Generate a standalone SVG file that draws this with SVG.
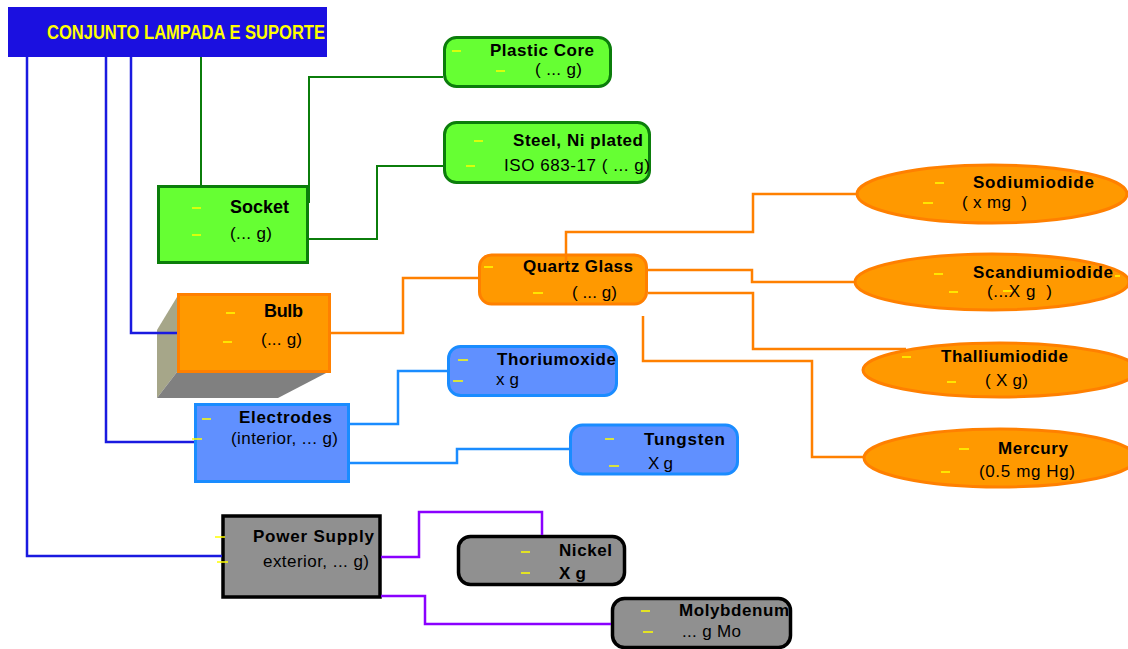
<svg xmlns="http://www.w3.org/2000/svg" width="1128" height="649" viewBox="0 0 1128 649">
  <style>
    text { font-family: "Liberation Sans", Arial, sans-serif; fill: #000; white-space: pre; }
    .b { font-weight: bold; }
    .t { font-size: 17px; }
    .green { fill: #66ff33; stroke: #0b7d0b; stroke-width: 3; }
    .orange { fill: #ff9900; stroke: #ff8000; stroke-width: 3; }
    .blue { fill: #6090ff; stroke: #1a8cff; stroke-width: 3; }
    .gray { fill: #909090; stroke: #000; stroke-width: 3.5; }
    .dash { stroke: #ffff00; stroke-width: 1.5; }
    .c { fill: none; stroke-width: 2.5; }
    .c-root { stroke: #1a1ae0; }
    .c-green { stroke: #0b7d0b; stroke-width: 2; }
    .c-orange { stroke: #ff8000; }
    .c-elec { stroke: #1a8cff; }
    .c-purple { stroke: #8a00ff; }
  </style>

  <!-- root -->
  <g id="conjunto">
    <rect x="8" y="7" width="319" height="50" fill="#1b10e0"/>
    <text x="47" y="39" class="b" font-size="20" style="fill:#ffff00" textLength="278" lengthAdjust="spacingAndGlyphs">CONJUNTO LAMPADA E SUPORTE</text>
  </g>

  <!-- socket branch -->
  <g id="socket">
    <rect class="green" x="158.5" y="186.5" width="149" height="76"/>
    <text x="230" y="213" class="b" font-size="18" textLength="59">Socket</text>
    <text x="230" y="239" font-size="17" textLength="42">(... g)</text>
    <line class="dash" x1="192" y1="208" x2="201" y2="208"/>
    <line class="dash" x1="192" y1="235" x2="201" y2="235"/>
  </g>
  <g id="plastic-core">
    <rect class="green" x="444.5" y="37.5" width="166" height="49" rx="12"/>
    <text x="490" y="56" class="b t" textLength="104">Plastic Core</text>
    <text x="535" y="75" class="t" textLength="47">( ... g)</text>
    <line class="dash" x1="452" y1="51" x2="461" y2="51"/>
    <line class="dash" x1="496" y1="71" x2="505" y2="71"/>
  </g>
  <g id="steel">
    <rect class="green" x="444.5" y="122.5" width="205" height="60" rx="12"/>
    <text x="513" y="146" class="b t" textLength="130">Steel, Ni plated</text>
    <text x="504" y="171" class="t" textLength="146">ISO 683-17 ( ... g)</text>
    <line class="dash" x1="474" y1="141" x2="483" y2="141"/>
    <line class="dash" x1="466" y1="166" x2="475" y2="166"/>
  </g>

  <!-- bulb branch -->
  <g id="bulb">
    <polygon points="177,297 177,372 157,398 157,330" fill="#a6a689"/>
    <polygon points="177,372 328,372 278,398 157,398" fill="#808080"/>
    <rect class="orange" x="178.5" y="294.5" width="151" height="77"/>
    <text x="264" y="317" class="b" font-size="18" textLength="39">Bulb</text>
    <text x="261" y="345" font-size="17" textLength="41">(... g)</text>
    <line class="dash" x1="226" y1="313" x2="235" y2="313"/>
    <line class="dash" x1="223" y1="342" x2="232" y2="342"/>
  </g>
  <g id="quartz-glass">
    <rect class="orange" x="479.5" y="255" width="167" height="49" rx="12"/>
    <text x="523" y="272" class="b t" textLength="110">Quartz Glass</text>
    <text x="572" y="298" class="t" textLength="45">( ... g)</text>
    <line class="dash" x1="484" y1="267" x2="493" y2="267"/>
    <line class="dash" x1="533" y1="293" x2="543" y2="293"/>
  </g>
  <g id="sodiumiodide">
    <ellipse class="orange" cx="992" cy="194" rx="135" ry="29"/>
    <text x="973" y="188" class="b t" textLength="121">Sodiumiodide</text>
    <text x="962" y="208" class="t" textLength="65">( x mg  )</text>
    <line class="dash" x1="935" y1="183" x2="944" y2="183"/>
    <line class="dash" x1="923" y1="203" x2="933" y2="203"/>
  </g>
  <g id="scandiumiodide">
    <ellipse class="orange" cx="992" cy="282" rx="137" ry="28"/>
    <text x="973" y="278" class="b t" textLength="140">Scandiumiodide</text>
    <text x="987" y="297" class="t" textLength="65">(...X g  )</text>
    <line class="dash" x1="934" y1="274" x2="943" y2="274"/>
    <line class="dash" x1="949" y1="292" x2="958" y2="292"/>
    <line class="dash" x1="1003" y1="291" x2="1012" y2="291"/>
    <line class="dash" x1="1115" y1="276" x2="1120" y2="276"/>
  </g>
  <g id="thalliumiodide">
    <ellipse class="orange" cx="1000" cy="370" rx="137" ry="27"/>
    <text x="941" y="362" class="b t" textLength="127">Thalliumiodide</text>
    <text x="985" y="386" class="t" textLength="43">( X g)</text>
    <line class="dash" x1="902" y1="357" x2="911" y2="357"/>
    <line class="dash" x1="947" y1="382" x2="956" y2="382"/>
  </g>
  <g id="mercury">
    <ellipse class="orange" cx="1000" cy="458" rx="136" ry="29"/>
    <text x="998" y="454" class="b t" textLength="70">Mercury</text>
    <text x="979" y="477" class="t" textLength="96">(0.5 mg Hg)</text>
    <line class="dash" x1="959" y1="449" x2="969" y2="449"/>
    <line class="dash" x1="941" y1="472" x2="950" y2="472"/>
  </g>

  <!-- electrodes branch -->
  <g id="electrodes">
    <rect class="blue" x="195.5" y="404.5" width="153" height="77"/>
    <text x="239" y="423" class="b t" textLength="93">Electrodes</text>
    <text x="231" y="444" class="t" textLength="107">(interior, ... g)</text>
    <line class="dash" x1="202" y1="419" x2="211" y2="419"/>
    <line class="dash" x1="192" y1="439" x2="202" y2="439"/>
  </g>
  <g id="thoriumoxide">
    <rect class="blue" x="448.5" y="346.5" width="168" height="49" rx="12"/>
    <text x="497" y="365" class="b t" textLength="119">Thoriumoxide</text>
    <text x="496" y="385" class="t" textLength="23">x g</text>
    <line class="dash" x1="458" y1="360" x2="468" y2="360"/>
    <line class="dash" x1="453" y1="381" x2="463" y2="381"/>
  </g>
  <g id="tungsten">
    <rect class="blue" x="570.5" y="425" width="167" height="49" rx="12"/>
    <text x="644" y="445" class="b t" textLength="81">Tungsten</text>
    <text x="648" y="469" class="t" textLength="25">X g</text>
    <line class="dash" x1="605" y1="439" x2="614" y2="439"/>
    <line class="dash" x1="609" y1="466" x2="619" y2="466"/>
  </g>

  <!-- power supply branch -->
  <g id="power-supply">
    <rect class="gray" x="223" y="516" width="157" height="81"/>
    <text x="253" y="542" class="b t" textLength="121">Power Supply</text>
    <text x="263" y="567" class="t" textLength="106">exterior, ... g)</text>
    <line class="dash" x1="215" y1="537" x2="225" y2="537"/>
    <line class="dash" x1="217" y1="562" x2="228" y2="562"/>
  </g>
  <g id="nickel">
    <rect class="gray" x="458.5" y="536.5" width="166" height="48" rx="12"/>
    <text x="559" y="556" class="b t" textLength="53">Nickel</text>
    <text x="559" y="579" class="b t" textLength="27">X g</text>
    <line class="dash" x1="521" y1="552" x2="530" y2="552"/>
    <line class="dash" x1="521" y1="573" x2="530" y2="573"/>
  </g>
  <g id="molybdenum">
    <rect class="gray" x="612.5" y="598.5" width="178" height="49" rx="12"/>
    <text x="679" y="616" class="b t" textLength="110">Molybdenum</text>
    <text x="682" y="637" class="t" textLength="59">... g Mo</text>
    <line class="dash" x1="641" y1="611" x2="650" y2="611"/>
    <line class="dash" x1="643" y1="632" x2="653" y2="632"/>
  </g>

  <!-- connectors -->
  <g id="connectors">
    <path class="c c-root" d="M27 57 V556 H222"/>
    <path class="c c-root" d="M106 57 V442 H194"/>
    <path class="c c-root" d="M131 57 V333 H177"/>
    <path class="c c-green" d="M201 57 V185"/>
    <path class="c c-green" d="M309 203 V77 H443"/>
    <path class="c c-green" d="M309 239 H377 V166 H443"/>
    <path class="c c-orange" d="M330 333 H403 V278 H478"/>
    <path class="c c-orange" d="M566 263 V232 H753 V194 H857"/>
    <path class="c c-orange" d="M648 270 H752 V282 H855"/>
    <path class="c c-orange" d="M648 293 H753 V349 H906"/>
    <path class="c c-orange" d="M643 316 V361 H812 V457 H865"/>
    <path class="c c-elec" d="M349 424 H398 V371 H447"/>
    <path class="c c-elec" d="M349 463 H457 V449 H569"/>
    <path class="c c-purple" d="M381 557 H419 V512 H542 V535"/>
    <path class="c c-purple" d="M381 596 H425 V624 H611"/>
  </g>
</svg>
